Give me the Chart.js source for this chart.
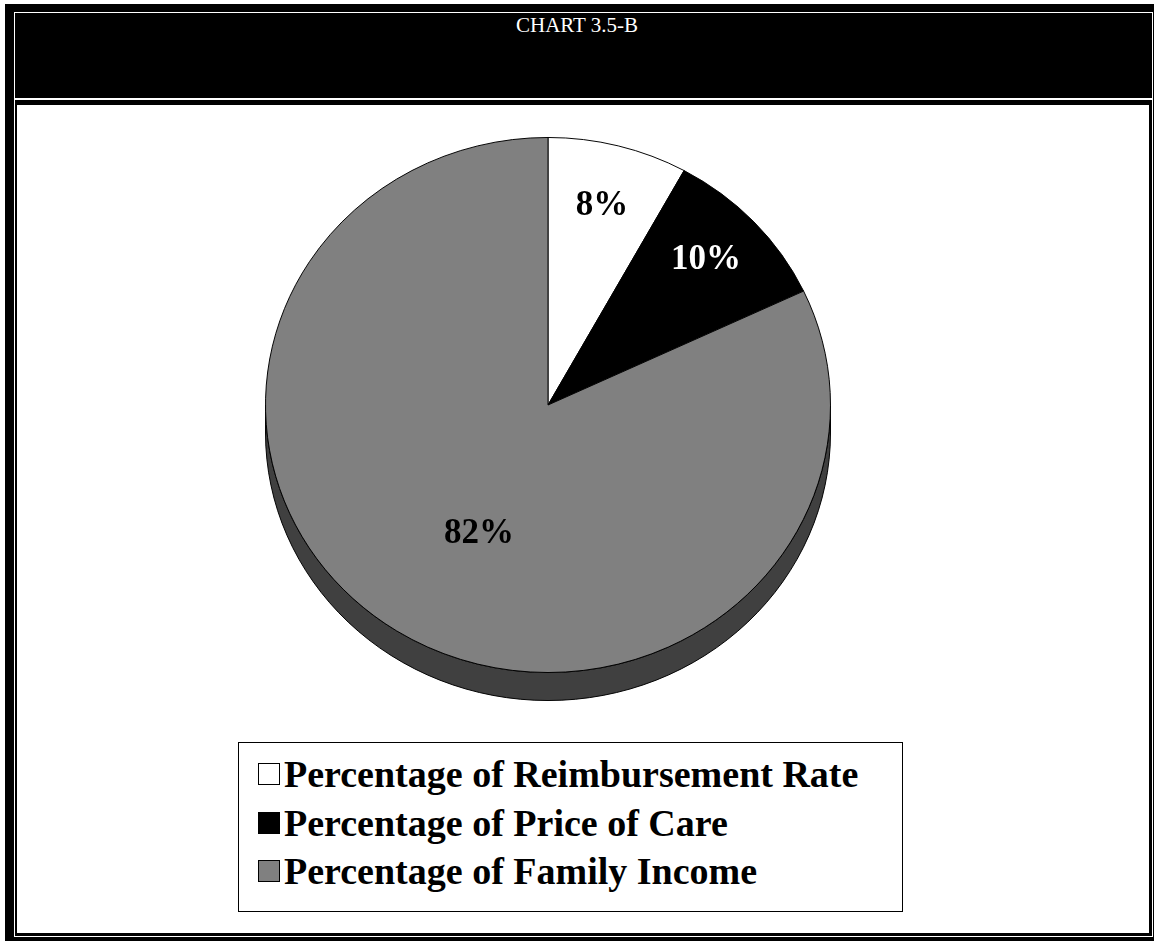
<!DOCTYPE html>
<html lang="en">
<head>
  <meta charset="UTF-8" />
  <title>CHART 3.5-B</title>
  <script src="https://cdn.jsdelivr.net/npm/chart.js"></script>
  <style>
    body {
      margin: 0;
      width: 1154px;
      height: 942px;
      position: relative;
      background: #fff;
      font-family: 'Liberation Serif', 'Times New Roman', serif;
      overflow: hidden;
    }
    .box { position: absolute; }
    #outer { left: 5px; top: 4px; width: 1149px; height: 937px; background: #000; }
    #ring { left: 14px; top: 12px; width: 1137px; height: 923px; border: 1px solid #fff; background: #000; }
    #sep { left: 15px; top: 98px; width: 1137px; height: 2px; background: #fff; }
    #content { left: 17px; top: 105px; width: 1132px; height: 828px; background: #fff; }
    #title {
      left: 0; top: 13px; width: 1154px;
      text-align: center; color: #fff; font-size: 21px;
    }
    #pie { position: absolute; left: 248px; top: 105px; }
    #legend {
      left: 238px; top: 742px; width: 663px; height: 161px;
      border: 1px solid #000; background: #fff;
      padding-top: 7px; box-sizing: content-box;
    }
    .item {
      display: flex; align-items: center;
      height: 48.5px; padding-left: 19px;
      font-weight: bold; font-size: 38px; color: #000;
    }
    .swatch {
      width: 20px; height: 20px; border: 1px solid #000;
      margin-right: 4px; flex: none;
    }
  </style>
</head>
<body>
  <div class="box" id="outer"></div>
  <div class="box" id="ring"></div>
  <div class="box" id="sep"></div>
  <div class="box" id="content"></div>
  <div class="box" id="title">CHART 3.5-B</div>
  <canvas id="pie" width="600" height="600"></canvas>
  <div class="box" id="legend"></div>

  <script>
    const categories = ['Percentage of Reimbursement Rate', 'Percentage of Price of Care', 'Percentage of Family Income'];
    const shares = [8, 10, 82];

    const fills = ['#ffffff', '#000000', '#808080'];
    const sides = ['#bfbfbf', '#000000', '#404040'];
    const labelInk = ['#000000', '#ffffff', '#000000'];

    // legend
    const legend = document.getElementById('legend');
    categories.forEach((name, i) => {
      const row = document.createElement('div');
      row.className = 'item';
      const sw = document.createElement('span');
      sw.className = 'swatch';
      sw.style.background = fills[i];
      row.appendChild(sw);
      row.appendChild(document.createTextNode(name));
      legend.appendChild(row);
    });

    // squash the pie into an ellipse and give it a dark rim underneath
    const tilt = {
      id: 'tilt',
      beforeDatasetsDraw(chart, args, opts) {
        const meta = chart.getDatasetMeta(0);
        const first = meta.data[0];
        const cx = first.x, cy = first.y;
        const ctx = chart.ctx;
        ctx.save();
        ctx.translate(cx, cy);
        ctx.scale(1, opts.squash);
        ctx.translate(-cx, -cy);
        const d = opts.depth / opts.squash;
        meta.data.forEach((arc, i) => {
          const s = Math.max(arc.startAngle, 0);
          const e = Math.min(arc.endAngle, Math.PI);
          if (e <= s) return;
          const r = arc.outerRadius;
          ctx.beginPath();
          ctx.arc(cx, cy, r, s, e);
          ctx.arc(cx, cy + d, r, e, s, true);
          ctx.closePath();
          ctx.fillStyle = opts.sides[i];
          ctx.fill();
          ctx.lineWidth = 1;
          ctx.strokeStyle = '#000';
          ctx.stroke();
        });
      },
      afterDatasetsDraw(chart, args, opts) {
        const ctx = chart.ctx;
        ctx.restore();
        const meta = chart.getDatasetMeta(0);
        ctx.save();
        ctx.font = 'bold 35px "Liberation Serif", "Times New Roman", serif';
        ctx.textAlign = 'center';
        ctx.textBaseline = 'middle';
        meta.data.forEach((arc, i) => {
          const mid = (arc.startAngle + arc.endAngle) / 2 + opts.labelTurn[i] * Math.PI / 180;
          const rr = arc.outerRadius * opts.labelRadius[i];
          const x = arc.x + Math.cos(mid) * rr;
          const y = arc.y + Math.sin(mid) * rr * opts.squash;
          ctx.fillStyle = opts.ink[i];
          ctx.fillText(shares[i] + '%', x, y);
        });
        ctx.restore();
      }
    };

    new Chart(document.getElementById('pie'), {
      type: 'pie',
      data: {
        labels: categories,
        datasets: [{
          data: shares,
          backgroundColor: fills,
          borderColor: '#000',
          borderWidth: 1
        }]
      },
      options: {
        responsive: false,
        animation: false,
        layout: { padding: 17 },
        plugins: {
          legend: { display: false },
          tooltip: { enabled: false },
          tilt: {
            squash: 268 / 283,
            depth: 28,
            sides: sides,
            ink: labelInk,
            labelRadius: [0.77, 0.78, 0.54],
            labelTurn: [0, -1, -5.5]
          }
        }
      },
      plugins: [tilt]
    });
  </script>
</body>
</html>
